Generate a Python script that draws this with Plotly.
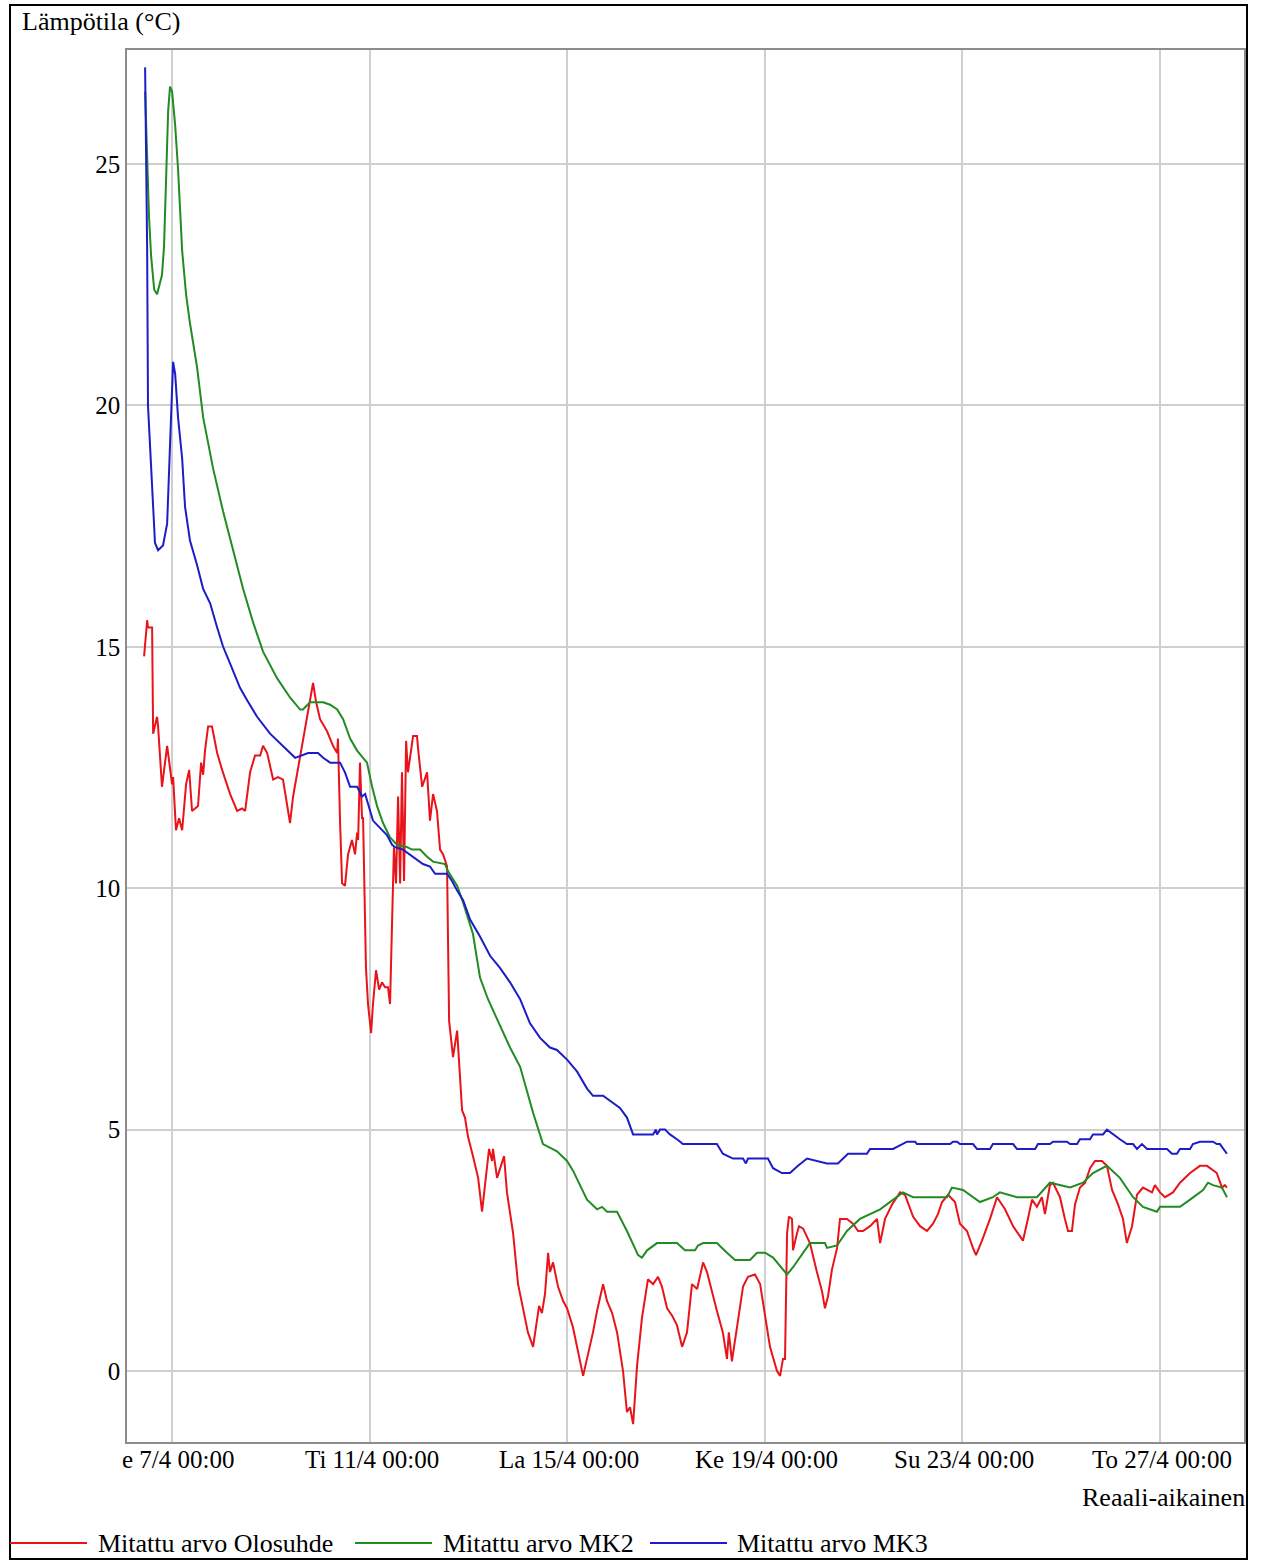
import plotly.graph_objects as go
import pandas as pd

# ---------------- data (hours from 2023-04-07 00:00, temperature °C) ----------------
BASE = pd.Timestamp("2023-04-07 00:00")

olosuhde_h = [-13.6, -12.1, -11.7, -9.7, -9.2, -7.3, -6.8, -4.9, -2.4, 0.0, 0.5, 1.9, 3.4, 4.9, 6.8, 8.3,
              9.7, 11.2, 12.6, 14.1, 15.1, 16.0, 17.5, 19.4, 21.9, 24.3, 28.2, 31.6, 34.0, 35.5, 37.9,
              40.3, 42.8, 44.2, 46.2, 49.1, 51.5, 53.9, 55.9, 57.3, 58.8, 61.2, 63.6, 66.1, 68.5, 70.0,
              71.9, 75.3, 78.2, 80.2, 80.6, 81.6, 82.6, 84.0, 85.5, 87.4, 88.9, 89.9, 90.4, 91.3, 92.3,
              92.8, 94.2, 95.2, 96.7, 97.6, 99.1, 100.6, 102.0, 103.5, 104.9, 105.9, 106.9, 107.8,
              108.8, 109.8, 110.8, 111.7, 112.7, 113.7, 114.6, 117.1, 119.0, 119.5, 121.5, 123.9,
              125.3, 126.8, 128.7, 130.2, 131.7, 133.6, 134.6, 136.5, 138.5, 140.9, 142.3, 143.8,
              146.2, 148.7, 150.6, 153.0, 154.0, 155.5, 155.9, 157.9, 159.3, 161.3, 162.7, 164.2,
              165.7, 168.1, 170.5, 172.9, 175.4, 177.3, 178.3, 179.7, 181.2, 182.7, 183.6, 185.1,
              187.5, 190.0, 191.9, 194.8, 198.2, 199.7, 202.1, 204.5, 206.5, 209.4, 211.3, 213.8,
              216.2, 219.1, 221.0, 222.5, 224.0, 225.9, 228.3, 231.2, 233.7, 236.1, 238.0, 240.5,
              242.9, 245.3, 247.8, 250.2, 252.6, 255.1, 258.0, 259.9, 264.7, 267.6, 269.6, 270.5,
              272.0, 274.9, 277.4, 279.8, 283.2, 285.7, 288.1, 290.5, 293.9, 295.4, 296.8, 297.8,
              298.8, 299.7, 301.2, 301.7, 303.6, 304.6, 306.6, 309.9, 313.3, 315.8, 317.2, 318.7,
              320.6, 323.1, 324.5, 327.9, 330.8, 333.3, 335.7, 339.1, 342.5, 344.0, 346.4, 349.8,
              353.7, 356.1, 360.0, 363.4, 366.8, 369.7, 372.1, 374.1, 377.0, 380.4, 382.8, 386.2,
              389.1, 390.6, 393.5, 397.4, 400.8, 404.7, 408.6, 412.0, 413.4, 415.8, 417.8, 420.2,
              422.6, 424.1, 426.5, 428.0, 431.4, 433.8, 435.3, 437.2, 438.7, 441.1, 443.6, 446.0,
              448.4, 451.8, 454.2, 456.7, 459.6, 462.0, 463.9, 466.4, 468.8, 471.7, 476.1, 477.5,
              480.0, 482.4, 486.3, 489.7, 494.6, 499.4, 502.8, 507.6, 510.1, 511.5, 512.5]
olosuhde_v = [14.8, 15.55, 15.4, 15.4, 13.2, 13.55, 13.35, 12.1, 12.95, 12.15, 12.3, 11.2, 11.45, 11.2,
              12.15, 12.45, 11.6, 11.65, 11.7, 12.6, 12.35, 12.85, 13.35, 13.35, 12.8, 12.45, 11.95,
              11.6, 11.65, 11.6, 12.4, 12.75, 12.75, 12.95, 12.8, 12.25, 12.3, 12.25, 11.75, 11.35,
              11.9, 12.5, 13.1, 13.7, 14.25, 13.85, 13.5, 13.25, 12.95, 12.8, 13.1, 11.4, 10.1, 10.05,
              10.7, 11.0, 10.7, 11.15, 11.0, 12.6, 11.45, 11.45, 8.35, 7.6, 7.0, 7.6, 8.3, 7.9, 8.05,
              7.95, 7.95, 7.6, 9.35, 10.85, 10.1, 11.9, 10.1, 12.4, 10.15, 13.05, 12.4, 13.15, 13.15,
              12.9, 12.1, 12.4, 11.4, 11.95, 11.6, 10.8, 10.7, 10.45, 7.25, 6.5, 7.05, 5.4, 5.25, 4.85,
              4.45, 4.0, 3.3, 4.2, 4.6, 4.35, 4.6, 4.0, 4.2, 4.45, 3.7, 3.25, 2.85, 1.8, 1.3, 0.8, 0.5,
              1.0, 1.35, 1.2, 1.6, 2.45, 2.05, 2.25, 1.75, 1.45, 1.3, 0.9, 0.25, -0.1, 0.35, 0.8, 1.25,
              1.8, 1.45, 1.2, 0.8, 0.0, -0.85, -0.75, -1.1, 0.1, 1.1, 1.9, 1.8, 1.95, 1.75, 1.3, 1.15,
              0.95, 0.5, 0.8, 1.8, 1.7, 2.25, 2.05, 1.25, 0.8, 0.25, 0.8, 0.2, 1.05, 1.75, 1.95, 2.0,
              1.8, 1.1, 0.5, 0.0, -0.1, 0.25, 0.25, 2.85, 3.2, 3.15, 2.5, 2.85, 3.0, 2.95, 2.65, 2.05,
              1.65, 1.3, 1.55, 2.1, 2.55, 3.15, 3.15, 3.05, 2.9, 2.9, 3.0, 3.15, 2.65, 3.15, 3.45, 3.7,
              3.65, 3.2, 3.0, 2.9, 3.05, 3.25, 3.5, 3.65, 3.5, 3.05, 2.9, 2.55, 2.4, 2.7, 3.15, 3.6,
              3.35, 3.0, 2.8, 2.7, 3.15, 3.55, 3.4, 3.6, 3.25, 3.85, 3.9, 3.6, 3.15, 2.9, 2.9, 3.45,
              3.8, 3.9, 4.2, 4.35, 4.35, 4.25, 3.75, 3.45, 3.15, 2.65, 3.0, 3.65, 3.8, 3.7, 3.85, 3.7,
              3.6, 3.7, 3.9, 4.1, 4.25, 4.25, 4.1, 3.8, 3.85, 3.8]

mk2_h = [-13.1, -12.1, -11.2, -10.2, -8.7, -7.3, -5.8, -4.9, -3.9, -2.9, -1.9, -1.0, 0.0, 1.5, 2.9,
         4.9, 6.8, 8.7, 12.1, 15.1, 19.9, 24.8, 29.6, 34.5, 39.4, 44.2, 51.0, 57.3, 62.2, 63.6, 67.0,
         73.4, 76.8, 80.2, 83.1, 86.5, 89.9, 92.8, 94.7, 97.2, 99.6, 102.5, 105.9, 109.3, 114.2,
         116.6, 120.5, 123.9, 126.8, 132.6, 134.1, 138.5, 141.4, 146.2, 149.6, 153.5, 164.2, 169.1,
         175.4, 180.2, 187.0, 191.9, 194.8, 201.6, 206.5, 208.9, 211.3, 216.2, 221.0, 226.4, 228.3,
         230.8, 235.6, 245.3, 249.2, 254.1, 255.5, 258.0, 264.7, 269.6, 273.5, 280.8, 284.2, 288.1,
         292.0, 298.8, 301.7, 309.9, 317.2, 318.2, 323.1, 327.9, 334.2, 344.0, 350.3, 355.1, 360.0,
         376.5, 378.9, 384.3, 392.5, 398.8, 402.2, 410.5, 420.2, 426.5, 436.3, 442.6, 447.4, 454.2,
         460.5, 466.9, 471.7, 478.5, 480.0, 489.7, 494.6, 500.9, 503.3, 505.7, 510.1, 512.5]
mk2_v = [26.5, 25.1, 23.9, 23.1, 22.4, 22.3, 22.55, 22.7, 23.3, 24.65, 26.1, 26.6, 26.5, 25.8, 24.9,
         23.2, 22.3, 21.7, 20.8, 19.75, 18.7, 17.8, 17.0, 16.2, 15.5, 14.9, 14.35, 13.95, 13.7, 13.7,
         13.85, 13.85, 13.8, 13.7, 13.5, 13.1, 12.85, 12.7, 12.6, 12.1, 11.7, 11.35, 11.05, 10.9,
         10.85, 10.8, 10.8, 10.65, 10.55, 10.5, 10.35, 10.05, 9.7, 9.05, 8.15, 7.7, 6.7, 6.3, 5.35,
         4.7, 4.55, 4.35, 4.15, 3.55, 3.35, 3.4, 3.3, 3.3, 2.9, 2.4, 2.35, 2.5, 2.65, 2.65, 2.5, 2.5,
         2.6, 2.65, 2.65, 2.45, 2.3, 2.3, 2.45, 2.45, 2.35, 2.0, 2.15, 2.65, 2.65, 2.55, 2.6, 2.9,
         3.15, 3.35, 3.55, 3.7, 3.6, 3.6, 3.8, 3.75, 3.5, 3.6, 3.7, 3.6, 3.6, 3.9, 3.8, 3.9, 4.1,
         4.25, 4.0, 3.6, 3.4, 3.3, 3.4, 3.4, 3.55, 3.75, 3.9, 3.85, 3.8, 3.6]

mk3_h = [-13.1, -12.1, -11.7, -9.7, -8.3, -6.8, -4.4, -2.4, -1.0, 0.5, 1.5, 2.9, 4.9, 6.3, 8.7, 12.1,
         15.1, 18.5, 21.9, 24.8, 28.2, 33.0, 36.4, 41.3, 47.6, 55.9, 59.8, 66.1, 70.9, 73.4, 76.8,
         81.6, 84.0, 86.5, 89.9, 92.3, 93.8, 95.2, 97.6, 101.0, 104.4, 106.9, 108.3, 112.2, 115.6,
         119.0, 121.9, 125.3, 127.8, 133.6, 136.0, 138.5, 141.4, 144.8, 149.6, 154.5, 159.3, 164.2,
         169.1, 173.9, 178.8, 183.6, 187.0, 191.9, 196.8, 201.6, 204.5, 209.4, 214.2, 217.6, 221.0,
         224.0, 233.7, 235.1, 235.6, 237.1, 239.5, 241.9, 245.3, 248.2, 264.7, 267.6, 272.5, 277.4,
         278.8, 279.8, 289.5, 292.0, 296.3, 300.2, 304.1, 308.5, 318.2, 323.5, 328.4, 337.6, 339.1,
         350.3, 357.1, 361.0, 361.9, 378.0, 379.4, 381.4, 382.8, 389.1, 391.1, 397.4, 398.8, 408.6,
         410.5, 419.3, 420.7, 426.5, 428.0, 434.8, 436.3, 439.7, 441.1, 446.0, 447.4, 452.3, 454.2,
         457.1, 460.5, 463.9, 466.9, 468.8, 471.2, 473.7, 483.4, 485.8, 488.2, 489.7, 494.6, 496.0,
         499.4, 505.7, 507.6, 509.1, 510.6, 512.5]
mk3_v = [27.0, 23.2, 20.0, 18.4, 17.15, 17.0, 17.1, 17.55, 19.1, 20.9, 20.65, 19.75, 18.9, 17.9, 17.2,
         16.7, 16.2, 15.9, 15.4, 15.0, 14.65, 14.15, 13.9, 13.55, 13.2, 12.85, 12.7, 12.8, 12.8, 12.7,
         12.6, 12.6, 12.4, 12.1, 12.1, 11.9, 11.95, 11.75, 11.4, 11.25, 11.1, 10.9, 10.85, 10.8,
         10.7, 10.6, 10.5, 10.45, 10.3, 10.3, 10.15, 9.95, 9.75, 9.35, 9.0, 8.6, 8.35, 8.05, 7.7,
         7.2, 6.9, 6.7, 6.65, 6.45, 6.2, 5.85, 5.7, 5.7, 5.55, 5.45, 5.25, 4.9, 4.9, 5.0, 4.9, 5.0,
         5.0, 4.9, 4.8, 4.7, 4.7, 4.5, 4.4, 4.4, 4.3, 4.4, 4.4, 4.2, 4.1, 4.1, 4.25, 4.4, 4.3, 4.3,
         4.5, 4.5, 4.6, 4.6, 4.75, 4.75, 4.7, 4.7, 4.75, 4.75, 4.7, 4.7, 4.6, 4.6, 4.7, 4.7, 4.6,
         4.6, 4.7, 4.7, 4.75, 4.75, 4.7, 4.7, 4.8, 4.8, 4.9, 4.9, 5.0, 4.9, 4.8, 4.7, 4.7, 4.6, 4.7,
         4.6, 4.6, 4.5, 4.5, 4.6, 4.6, 4.7, 4.75, 4.75, 4.7, 4.7, 4.6, 4.5]

series_names = ["Mitattu arvo Olosuhde", "Mitattu arvo MK2", "Mitattu arvo MK3"]
series_colors = ["#e8141a", "#228b22", "#1c1cc8"]

tick_days = [0, 4, 8, 12, 16, 20]
tick_labels = ["e 7/4 00:00", "Ti 11/4 00:00", "La 15/4 00:00", "Ke 19/4 00:00",
               "Su 23/4 00:00", "To 27/4 00:00"]
y_ticks = [0, 5, 10, 15, 20, 25]

# ---------------- figure ----------------
W, H = 1261, 1560
L, R, T, B = 127, 1244, 50, 1442   # plot area in pixels
FONT = "Liberation Serif"
TICK_SIZE = 25
TEXT_SIZE = 26


def px(x):
    return (x - L) / (R - L)


def py(y):
    return (B - y) / (B - T)


def to_time(hours):
    return [BASE + pd.Timedelta(hours=h) for h in hours]


fig = go.Figure()
for hh, vv, name, col in zip([olosuhde_h, mk2_h, mk3_h], [olosuhde_v, mk2_v, mk3_v],
                             series_names, series_colors):
    fig.add_trace(go.Scatter(x=to_time(hh), y=vv, mode="lines", name=name,
                             line=dict(color=col, width=2), showlegend=False))

tick_times = [BASE + pd.Timedelta(days=d) for d in tick_days]

fig.update_layout(
    width=W, height=H, autosize=False,
    margin=dict(l=L, r=W - R, t=T, b=H - B, pad=0),
    paper_bgcolor="white", plot_bgcolor="white",
    font=dict(family=FONT, size=TEXT_SIZE, color="black"),
)
fig.update_xaxes(
    range=[BASE + pd.Timedelta(hours=-21.9), BASE + pd.Timedelta(hours=520.8)],
    tickmode="array", tickvals=tick_times, ticktext=tick_labels,
    showticklabels=False,
    showgrid=True, gridcolor="#cfcfcf", gridwidth=1.5,
    showline=True, linecolor="#8c8c8c", linewidth=1.5, mirror=True,
    ticks="", zeroline=False,
)
fig.update_yaxes(
    range=[-1.47, 27.36],
    tickmode="array", tickvals=y_ticks, ticktext=[str(v) for v in y_ticks],
    showgrid=True, gridcolor="#cfcfcf", gridwidth=1.5,
    showline=True, linecolor="#8c8c8c", linewidth=1.5, mirror=True,
    ticks="", ticklabelstandoff=0, zeroline=False,
    tickfont=dict(family=FONT, size=TICK_SIZE, color="black"),
)

# x tick labels (placed just under the axis, as in the reference)
for i, (tt, lab) in enumerate(zip(tick_times, tick_labels)):
    fig.add_annotation(text=lab, xref="x", yref="paper", x=tt, y=py(1459),
                       xanchor="center", yanchor="middle", showarrow=False,
                       xshift=6 if i == 0 else 2,
                       font=dict(family=FONT, size=TICK_SIZE, color="black"))

# outer frame
fig.add_shape(type="rect", xref="paper", yref="paper",
              x0=px(10), x1=px(1247), y0=py(1559), y1=py(5),
              line=dict(color="black", width=2), fillcolor="rgba(0,0,0,0)", layer="below")

# axis titles
fig.add_annotation(text="Lämpötila (°C)", xref="paper", yref="paper", x=px(20), y=py(22),
                   xanchor="left", yanchor="middle", showarrow=False,
                   font=dict(family=FONT, size=TEXT_SIZE, color="black"))
fig.add_annotation(text="Reaali-aikainen", xref="paper", yref="paper", x=px(1247), y=py(1497),
                   xanchor="right", yanchor="middle", showarrow=False,
                   font=dict(family=FONT, size=TEXT_SIZE, color="black"))

# custom legend
legend_items = [(10, 87, 96), (355, 432, 441), (650, 727, 735)]
for (x0, x1, xt), name, col in zip(legend_items, series_names, series_colors):
    fig.add_shape(type="line", xref="paper", yref="paper", x0=px(x0), x1=px(x1),
                  y0=py(1543), y1=py(1543), line=dict(color=col, width=2))
    fig.add_annotation(text=name, xref="paper", yref="paper", x=px(xt), y=py(1543),
                       xanchor="left", yanchor="middle", showarrow=False,
                       font=dict(family=FONT, size=TEXT_SIZE, color="black"))

fig.write_html("out.html", config={"displayModeBar": False},
               post_script="document.body.style.margin='0px';document.body.style.overflow='hidden';")
